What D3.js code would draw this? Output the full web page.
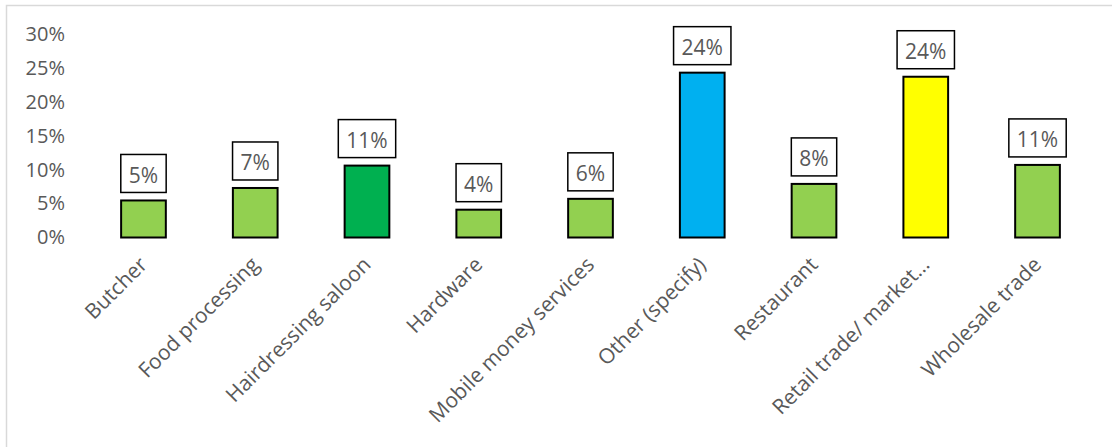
<!DOCTYPE html>
<html>
<head>
<meta charset="utf-8">
<script src="https://cdn.jsdelivr.net/npm/d3@7"></script>
<style>
  html, body { margin: 0; padding: 0; background: #fff; }
  svg { display: block; }
  text { font-family: "Open Sans", "Noto Sans", sans-serif; fill: #595959; }
</style>
</head>
<body>
<svg id="chart" width="1112" height="447"></svg>
<script>
const categories = ["Butcher", "Food processing", "Hairdressing saloon", "Hardware",
  "Mobile money services", "Other (specify)", "Restaurant", "Retail trade/ market…", "Wholesale trade"];
const values = [0.0546, 0.073, 0.106, 0.041, 0.057, 0.243, 0.079, 0.237, 0.107];
const colors = ["#92d050", "#92d050", "#00b050", "#92d050", "#92d050", "#00b0f0", "#92d050", "#ffff00", "#92d050"];
const yTicks = [0, 0.05, 0.10, 0.15, 0.20, 0.25, 0.30];

const svg = d3.select("#chart");

// chart border
svg.append("path")
  .attr("d", "M6.5,447 L6.5,5.5 L1112,5.5")
  .attr("fill", "none").attr("stroke", "#d9d9d9").attr("stroke-width", 1.5);

const x = d3.scaleBand().domain(categories).range([87.6, 1093.4])
  .paddingInner(0.6).paddingOuter(0.3);
const y = d3.scaleLinear().domain([0, 0.30]).range([237.5, 34]);

// y axis (labels only)
const yAxis = d3.axisLeft(y).tickValues(yTicks).tickFormat(d3.format(".0%")).tickSize(0).tickPadding(0);
const gy = svg.append("g").attr("transform", "translate(65,0)").call(yAxis);
gy.select(".domain").remove();
gy.selectAll("text").attr("font-size", 20).style("font-family", '"Open Sans", sans-serif').attr("fill", "#595959");

// x axis (rotated labels)
const xAxis = d3.axisBottom(x).tickSize(0).tickPadding(0);
const gx = svg.append("g").call(xAxis);
gx.select(".domain").remove();
gx.selectAll(".tick").attr("transform", d => `translate(${x(d) + x.bandwidth() / 2 + 5},266)`);
gx.selectAll("text")
  .attr("font-size", 21).style("font-family", '"Open Sans", sans-serif').attr("fill", "#595959")
  .attr("text-anchor", "end").attr("x", 0).attr("y", 0).attr("dy", 0)
  .attr("transform", "rotate(-45)");

// bars
svg.append("g").selectAll("rect").data(categories).join("rect")
  .attr("x", d => x(d))
  .attr("y", (d, i) => y(values[i]))
  .attr("width", x.bandwidth())
  .attr("height", (d, i) => y(0) - y(values[i]))
  .attr("fill", (d, i) => colors[i])
  .attr("stroke", "#000").attr("stroke-width", 2);

// data labels with boxes
const fmt = d3.format(".0%");
const lg = svg.append("g").selectAll("g").data(categories).join("g");
lg.each(function(d, i) {
  const g = d3.select(this);
  const cx = x(d) + x.bandwidth() / 2;
  const bottom = y(values[i]) - 8;
  const rect = g.append("rect");
  const t = g.append("text")
    .attr("x", cx).attr("y", bottom - 9.5)
    .attr("text-anchor", "middle").attr("font-size", 21)
    .text(fmt(values[i]));
  const w = t.node().getComputedTextLength() + 16;
  rect.attr("x", cx - w / 2).attr("y", bottom - 38).attr("width", w).attr("height", 38)
    .attr("fill", "#fff").attr("stroke", "#000").attr("stroke-width", 1.5);
});
</script>
</body>
</html>
